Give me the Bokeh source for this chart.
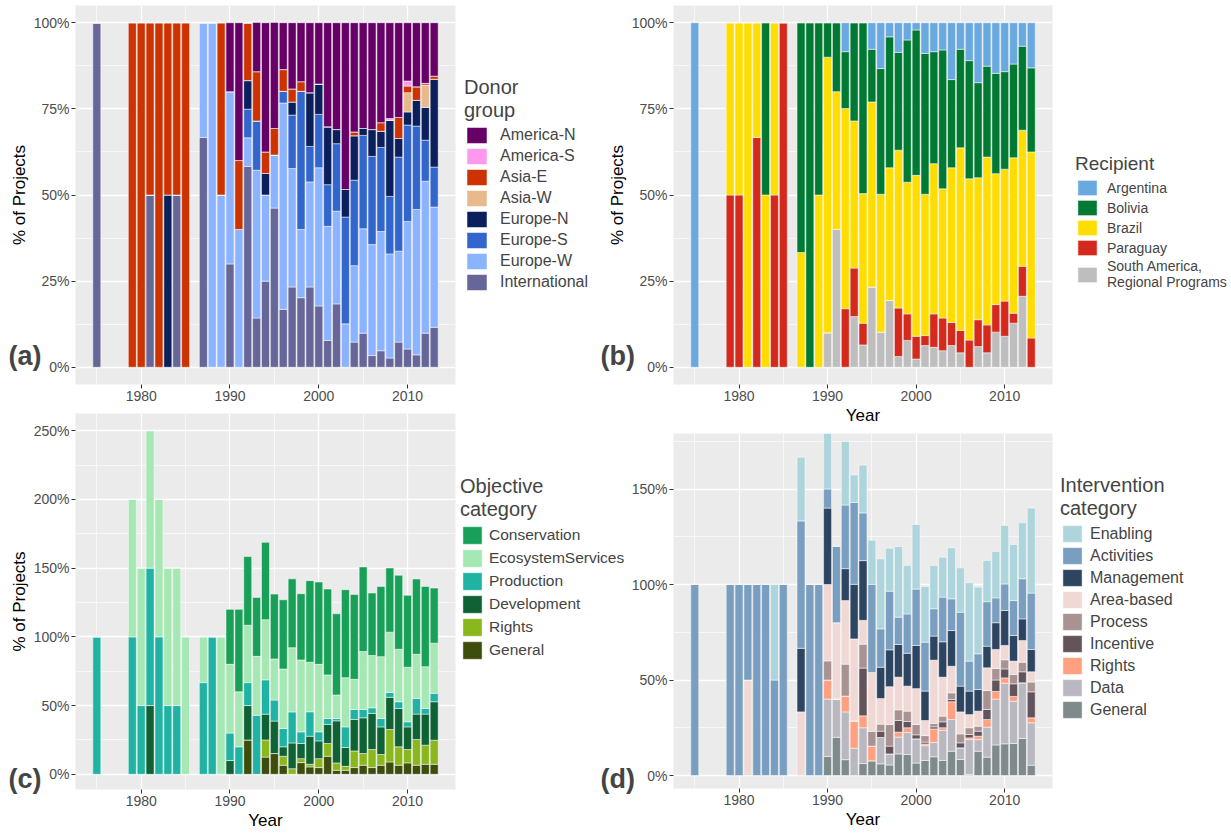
from bokeh.plotting import figure
from bokeh.models import (ColumnDataSource, Legend, LegendItem, Label, Range1d,
                          FixedTicker, PrintfTickFormatter, GridBox)
from bokeh.layouts import column
from bokeh.embed import file_html
from bokeh.resources import INLINE

FONT = "Liberation Sans"

YEARS = [1975, 1979, 1980, 1981, 1982, 1983, 1984, 1985,
         1987, 1988, 1989, 1990, 1991, 1992, 1993, 1994, 1995, 1996, 1997, 1998, 1999,
         2000, 2001, 2002, 2003, 2004, 2005, 2006, 2007, 2008, 2009, 2010, 2011, 2012, 2013]

# ---------------- (a) Donor group ----------------
DONOR_CATS = ["America-N", "America-S", "Asia-E", "Asia-W", "Europe-N", "Europe-S",
              "Europe-W", "International"]
DONOR_COLORS = ["#660066", "#ff99ee", "#cc3300", "#e8b98c", "#0a1f5c", "#3366cc",
                "#8cb3ff", "#666699"]
AMERICA_N = [0, 0, 0, 0, 0, 0, 0, 0,
             0, 0, 0, 20, 40, 0, 14.3, 37.5, 30.8, 13.6, 19.2, 17.1, 20.3,
             17.8, 30.2, 31, 48.4, 31.7, 30.7, 31, 29, 27.8, 27.5, 16.9, 18.6, 17.6, 15.5]
AMERICA_S = [0, 0, 0, 0, 0, 0, 0, 0,
             0, 0, 0, 0, 0, 0, 0, 0, 0, 0, 0, 0, 0,
             0, 0, 0, 0, 0, 0, 0, 0, 0.5, 0, 1.5, 0, 0, 0]
ASIA_E = [0, 100, 100, 50, 100, 50, 50, 100,
          0, 0, 50, 0, 20, 16.7, 14.3, 6.25, 7.7, 6.3, 3.8, 2.8, 0,
          0, 0, 0, 0, 1.1, 0, 0, 2.5, 0, 6.1, 1.9, 3.9, 0.5, 0.9]
ASIA_W = [0, 0, 0, 0, 0, 0, 0, 0,
          0, 0, 0, 0, 0, 0, 0, 0, 0, 0, 0, 0, 0,
          0, 0, 0, 0, 0, 0, 0, 0, 0, 0, 5.6, 0, 6.5, 0]
EUROPE_N = [0, 0, 0, 0, 0, 50, 0, 0,
            0, 0, 0, 0, 0, 8.3, 0, 6.25, 0, 0, 3.8, 0, 15.6,
            8.8, 16.8, 4.1, 8, 12.9, 2, 7.8, 4.7, 22.1, 5.4, 3.8, 7.5, 9.5, 25.5]
EUROPE_S = [0, 0, 0, 0, 0, 0, 0, 0,
            0, 0, 0, 0, 0, 8.3, 14.3, 0, 0, 3.4, 15.5, 40.1, 10.3,
            15.5, 12.1, 19.6, 31, 24.8, 27.1, 25.6, 24.4, 16.7, 27.3, 28, 24.2, 11.9, 11.6]
EUROPE_W = [0, 0, 0, 0, 0, 0, 0, 0,
            33.3, 100, 50, 50, 40, 8.3, 42.9, 25, 15.4, 59.9, 34.4, 19.8, 30.5,
            40.1, 33.1, 26.9, 12.6, 22.2, 30.3, 32.2, 34.6, 30.2, 26.4, 37, 42.2, 44.1, 34.9]
INTERNATIONAL = [100, 0, 0, 50, 0, 0, 50, 0,
                 66.7, 0, 0, 30, 0, 58.3, 14.3, 25, 46.2, 16.8, 23.3, 20.2, 23.3,
                 17.8, 7.8, 18.4, 0, 7.3, 9.9, 3.4, 4.8, 2.7, 7.3, 5.3, 3.6, 9.9, 11.6]

# ---------------- (b) Recipient ----------------
RECIP_CATS = ["Argentina", "Bolivia", "Brazil", "Paraguay", "South America,\nRegional Programs"]
RECIP_COLORS = ["#6aa9e0", "#007a33", "#ffdd00", "#d42a1e", "#bebebe"]
ARGENTINA = [100, 0, 0, 0, 0, 0, 0, 0,
             0, 0, 0, 0, 0, 8.4, 0, 0, 7.7, 13.3, 4.1, 8.6, 5,
             2.1, 8.9, 8.4, 7.9, 16.5, 7.7, 11, 17.4, 12.6, 14.7, 14.2, 12, 6.8, 13.1]
BOLIVIA = [0, 0, 0, 0, 0, 50, 0, 0,
           66.7, 100, 50, 10, 20, 16.5, 28.5, 49.6, 15.3, 36.5, 38, 28.4, 41.3,
           42.2, 40.9, 32.5, 40.3, 25.6, 28.6, 34.3, 27.6, 26.4, 29.1, 28.3, 27.2, 24.4, 24.4]
BRAZIL = [0, 50, 50, 100, 33.3, 50, 50, 0,
          33.3, 0, 50, 80, 40, 58.1, 42.7, 37.6, 53.7, 40, 38.5, 45.8, 38.2,
          46.7, 41, 43.6, 37.5, 44.9, 53, 46.8, 41.2, 48.7, 38, 38.3, 45.1, 39.5, 54]
PARAGUAY = [0, 50, 50, 0, 66.7, 0, 50, 100,
            0, 0, 0, 0, 0, 17, 14.1, 6.3, 0, 0, 0, 14.1, 7.7,
            6.6, 2.9, 9.7, 9.5, 6.7, 6.5, 7.9, 7.8, 8.1, 8, 10.2, 2.9, 8.7, 8.5]
SOUTH_AMERICA = [0, 0, 0, 0, 0, 0, 0, 0,
                 0, 0, 0, 10, 40, 0, 14.7, 6.5, 23.3, 10.2, 19.4, 3.1, 7.8,
                 2.4, 6.3, 5.8, 4.8, 6.3, 4.2, 0, 6, 4.2, 10.2, 9, 12.8, 20.6, 0]

# ---------------- (c) Objective category ----------------
OBJ_CATS = ["Conservation", "EcosystemServices", "Production", "Development", "Rights", "General"]
OBJ_COLORS = ["#18a058", "#a5e8b4", "#20b3a3", "#0e6233", "#8ab61e", "#3d4d0c"]
CONSERVATION = [0, 0, 0, 0, 0, 0, 0, 0,
                0, 0, 0, 40, 60, 50, 42.9, 56.25, 47.2, 50.4, 50.1, 48.2, 59.4,
                59.9, 62.5, 59.1, 64, 61.8, 61.6, 45.5, 51.1, 46.7, 53.8, 52.3, 54.8, 58.4, 40.1]
ECOSYSTEM = [0, 100, 100, 100, 100, 100, 100, 100,
             33.3, 0, 100, 50, 40, 41.7, 42.9, 43.75, 29.9, 43.3, 46.7, 52.3, 36,
             49.1, 31.7, 17.1, 35.8, 21.9, 42.1, 38, 45, 43.8, 38.2, 39.7, 32.1, 30.4, 36.5]
PRODUCTION = [100, 100, 50, 100, 100, 50, 50, 0,
              66.7, 100, 0, 20, 20, 16.7, 42.9, 25, 15.3, 13.3, 22.6, 8.5, 17.8,
              6.6, 4.3, 1.7, 15, 7.3, 6.1, 4.1, 6.1, 3.6, 4.9, 3.7, 11.4, 4.1, 6.1]
DEVELOPMENT = [0, 0, 0, 50, 0, 0, 0, 0,
               0, 0, 0, 10, 0, 25, 0, 18.75, 23.6, 6.9, 18.7, 11, 20.4,
               12.9, 13.9, 30.6, 13.7, 22.9, 26, 26.3, 20.1, 23.4, 27.9, 16.5, 18.5, 22.6, 28]
RIGHTS_OBJ = [0, 0, 0, 0, 0, 0, 0, 0,
              0, 0, 0, 0, 0, 0, 0, 12.5, 0, 6.5, 4.1, 2.9, 1.9,
              6.5, 9.3, 5.4, 2.9, 12.1, 8.5, 13.1, 7.8, 23.6, 13.4, 9.7, 18.7, 13.9, 17.5]
GENERAL_OBJ = [0, 0, 0, 0, 0, 0, 0, 0,
               0, 0, 0, 0, 0, 25, 0, 12.5, 15.1, 6.6, 0, 8.5, 5.4,
               4.9, 13.1, 2.9, 2.9, 4.9, 6.6, 4.9, 6.6, 9, 6.6, 8.3, 6.6, 7.3, 7.3]

# ---------------- (d) Intervention category ----------------
INT_CATS = ["Enabling", "Activities", "Management", "Area-based", "Process", "Incentive",
            "Rights", "Data", "General"]
INT_COLORS = ["#aed4dc", "#7a9ebf", "#2d4560", "#f0d8d4", "#a89292", "#63545c",
              "#ffa080", "#b9b8c0", "#7f8a8c"]
ENABLING = [0, 0, 0, 0, 0, 0, 50, 0,
            33.3, 0, 0, 30, 0, 33.3, 14.3, 25, 23.1, 36.6, 22.5, 37, 25.4,
            33.8, 29.2, 22.7, 20.9, 26.7, 23.2, 41, 34.9, 21.6, 24.3, 30.6, 29.3, 29.3, 44.5]
ACTIVITIES = [100, 100, 100, 50, 100, 100, 50, 100,
              66.7, 100, 100, 10, 40, 33.3, 42.9, 25, 46.2, 20.1, 30.7, 14.3, 20.6,
              29.5, 25.6, 14.3, 23.4, 16.6, 38.7, 15.7, 18.7, 23.3, 13, 13.9, 18.3, 21, 29.5]
MANAGEMENT = [0, 0, 0, 0, 0, 0, 0, 0,
              33.3, 0, 0, 40, 0, 16.7, 28.6, 31.25, 0, 16.4, 19.3, 17.1, 17.2,
              22.6, 15.4, 12.6, 18.5, 18.7, 13.5, 12.3, 11.3, 11.3, 14, 18.3, 13.4, 11.3, 11.7]
AREA_BASED = [0, 0, 0, 50, 0, 0, 0, 0,
              33.3, 0, 0, 40, 40, 33.3, 42.9, 12.5, 30.8, 13.4, 19.8, 17.1, 13.1,
              18.8, 7.9, 33.1, 20.4, 13.9, 11.5, 6.9, 7.9, 11.9, 10, 7.5, 7, 11.4, 5.4]
PROCESS = [0, 0, 0, 0, 0, 0, 0, 0,
           0, 0, 0, 10, 0, 16.7, 0, 12.5, 7.7, 3.7, 11.3, 5.6, 5.4,
           5.4, 3.4, 1.8, 3, 3.5, 4.7, 3.5, 2.6, 9.9, 6, 4.8, 4.9, 5, 5.1]
INCENTIVE = [0, 0, 0, 0, 0, 0, 0, 0,
             0, 0, 0, 0, 0, 0, 0, 25, 0, 3.3, 4.1, 6.1, 3.3,
             2.1, 1, 1.1, 3.1, 1.2, 2.6, 1.8, 2.6, 5.3, 6, 4.7, 6.6, 5.8, 13.6]
RIGHTS_INT = [0, 0, 0, 0, 0, 0, 0, 0,
              0, 0, 0, 10, 0, 8.3, 14.3, 6.25, 7.7, 0, 0, 2.6, 2.5,
              0, 0.9, 7.1, 1.4, 9.3, 0, 0.9, 1.8, 4, 4, 2.8, 2.5, 0, 2.6]
DATA = [0, 0, 0, 0, 0, 0, 0, 0,
        0, 0, 0, 30, 20, 25, 14.3, 18.75, 0, 13.8, 5.8, 8.8, 11.5,
        12.7, 7.7, 7.5, 15.7, 16.6, 6.1, 18.3, 6.1, 15.7, 24, 31.7, 22.1, 29.1, 22.2]
GENERAL_INT = [0, 0, 0, 0, 0, 0, 0, 0,
               0, 0, 0, 10, 20, 8.3, 0, 6.25, 7.7, 6.1, 5.5, 11.3, 11,
               6.5, 7.9, 9.8, 7.9, 12.7, 8.4, 0.5, 12.7, 9.6, 16, 16.6, 16.8, 19.4, 5.4]

X_MAJOR = [1980, 1990, 2000, 2010]
X_MINOR = [1975, 1985, 1995, 2005]


def make_source(series):
    data = {"year": YEARS}
    for i, s in enumerate(series):
        data[f"s{i}"] = s
    return ColumnDataSource(data)


def make_panel(colors, series, ylim, ymaj, ymin_t, fw, fh, borders, ylabel, xlabel):
    left, right, top, bottom = borders
    p = figure(frame_width=fw, frame_height=fh, output_backend="svg", toolbar_location=None,
               x_range=Range1d(1972.6, 2015.4), y_range=Range1d(*ylim),
               min_border_left=left, min_border_right=right,
               min_border_top=top, min_border_bottom=bottom)
    p.background_fill_color = "#EBEBEB"
    p.border_fill_color = "white"
    p.outline_line_color = None

    src = make_source(series)
    keys = [f"s{i}" for i in range(len(series))]
    p.vbar_stack(keys[::-1], x="year", width=0.9, fill_color=colors[::-1],
                 line_color="white", line_width=0.5, source=src)

    xt = FixedTicker(ticks=X_MAJOR, minor_ticks=X_MINOR)
    yt = FixedTicker(ticks=ymaj, minor_ticks=ymin_t)
    p.xaxis.ticker = xt
    p.yaxis.ticker = yt
    p.xgrid.ticker = xt
    p.ygrid.ticker = yt
    for g in (p.xgrid[0], p.ygrid[0]):
        g.grid_line_color = "white"
        g.grid_line_width = 1.3
        g.minor_grid_line_color = "white"
        g.minor_grid_line_width = 0.6
    p.yaxis.formatter = PrintfTickFormatter(format="%d%%")
    for ax in (p.xaxis[0], p.yaxis[0]):
        ax.axis_line_color = None
        ax.major_tick_line_color = "#333333"
        ax.major_tick_out = 4
        ax.major_tick_in = 0
        ax.minor_tick_line_color = None
        ax.major_label_text_font = FONT
        ax.major_label_text_font_size = "14px"
        ax.major_label_text_color = "#4D4D4D"
        ax.major_label_standoff = 2
        ax.axis_label_text_font = FONT
        ax.axis_label_text_font_size = "17px"
        ax.axis_label_text_font_style = "normal"
        ax.axis_label_text_color = "black"
        ax.axis_label_standoff = 2
    if ylabel:
        p.yaxis.axis_label = ylabel
    if xlabel:
        p.xaxis.axis_label = xlabel
    return p


pa = make_panel(DONOR_COLORS,
                [AMERICA_N, AMERICA_S, ASIA_E, ASIA_W, EUROPE_N, EUROPE_S, EUROPE_W, INTERNATIONAL],
                (-5, 105), [0, 25, 50, 75, 100], [12.5, 37.5, 62.5, 87.5],
                380, 379, (75, 145, 5, 28), "% of Projects", None)
pc = make_panel(OBJ_COLORS,
                [CONSERVATION, ECOSYSTEM, PRODUCTION, DEVELOPMENT, RIGHTS_OBJ, GENERAL_OBJ],
                (-11.06, 262.5), [0, 50, 100, 150, 200, 250], [25, 75, 125, 175, 225],
                380, 376, (75, 145, 1, 43), "% of Projects", "Year")
pb = make_panel(RECIP_COLORS,
                [ARGENTINA, BOLIVIA, BRAZIL, PARAGUAY, SOUTH_AMERICA],
                (-5, 105), [0, 25, 50, 75, 100], [12.5, 37.5, 62.5, 87.5],
                379, 379, (73, 178, 5, 44), "% of Projects", "Year")
pd = make_panel(INT_COLORS,
                [ENABLING, ACTIVITIES, MANAGEMENT, AREA_BASED, PROCESS, INCENTIVE,
                 RIGHTS_INT, DATA, GENERAL_INT],
                (-6.8, 179.06), [0, 50, 100, 150], [25, 75, 125, 175],
                379, 355, (73, 178, 5, 44), None, "Year")

# ---------- transparent overlay that carries the legends and the panel tags ----------
OW, OH = 1230, 832
ov = figure(width=OW, height=OH, output_backend="svg", toolbar_location=None,
            x_range=Range1d(0, OW), y_range=Range1d(0, OH),
            x_axis_type=None, y_axis_type=None, min_border=0)
ov.background_fill_color = None
ov.border_fill_color = None
ov.outline_line_color = None
ov.xgrid.visible = False
ov.ygrid.visible = False
ov.extra_x_ranges = {"hx": Range1d(1.0e5, 1.0e5 + 1)}
ov.extra_y_ranges = {"hy": Range1d(1.0e5, 1.0e5 + 1)}


def add_legend(cats, colors, series, title, loc, item_h, glyph_w, standoff,
               label_size, title_size):
    src = make_source(series)
    items = []
    for i, (c, col) in enumerate(zip(cats, colors)):
        r = ov.vbar(x="year", top=f"s{i}", width=0.9, source=src, fill_color=col,
                    line_color="white", line_width=0.5,
                    x_range_name="hx", y_range_name="hy")
        items.append(LegendItem(label=c, renderers=[r]))
    leg = Legend(items=items, title=title, location=loc,
                 glyph_width=glyph_w, glyph_height=item_h - 1, label_height=item_h - 1,
                 spacing=1, label_standoff=standoff, padding=0, margin=0,
                 border_line_color=None, background_fill_alpha=0,
                 label_text_font=FONT, label_text_font_size=label_size,
                 title_text_font=FONT, title_text_font_size=title_size,
                 title_text_font_style="normal", title_standoff=3)
    ov.add_layout(leg, "center")


add_legend(DONOR_CATS, DONOR_COLORS,
           [AMERICA_N, AMERICA_S, ASIA_E, ASIA_W, EUROPE_N, EUROPE_S, EUROPE_W, INTERNATIONAL],
           "Donor\ngroup", (464, 540), 21, 25, 11, "16px", "20px")
add_legend(RECIP_CATS, RECIP_COLORS,
           [ARGENTINA, BOLIVIA, BRAZIL, PARAGUAY, SOUTH_AMERICA],
           "Recipient", (1075, 542), 20, 24, 8, "14px", "19px")
add_legend(OBJ_CATS, OBJ_COLORS,
           [CONSERVATION, ECOSYSTEM, PRODUCTION, DEVELOPMENT, RIGHTS_OBJ, GENERAL_OBJ],
           "Objective\ncategory", (460, 171), 23, 24, 5, "15.5px", "20px")
add_legend(INT_CATS, INT_COLORS,
           [ENABLING, ACTIVITIES, MANAGEMENT, AREA_BASED, PROCESS, INCENTIVE,
            RIGHTS_INT, DATA, GENERAL_INT],
           "Intervention\ncategory", (1060, 112), 22, 24, 6, "16px", "20px")

for tag, tx, ty in [("(a)", 8, 477), ("(b)", 600, 477), ("(c)", 8, 54), ("(d)", 600, 54)]:
    ov.add_layout(Label(x=tx, y=ty, x_units="screen", y_units="screen", text=tag,
                        text_font=FONT, text_font_size="27px", text_font_style="bold",
                        text_baseline="middle", text_align="left"))

left_col = column(pa, pc, spacing=0)
right_col = column(pb, pd, spacing=0)
layout = GridBox(children=[(left_col, 0, 0), (right_col, 0, 1), (ov, 0, 0, 1, 2)], spacing=0)
open("out.html", "w").write(file_html(layout, INLINE))
